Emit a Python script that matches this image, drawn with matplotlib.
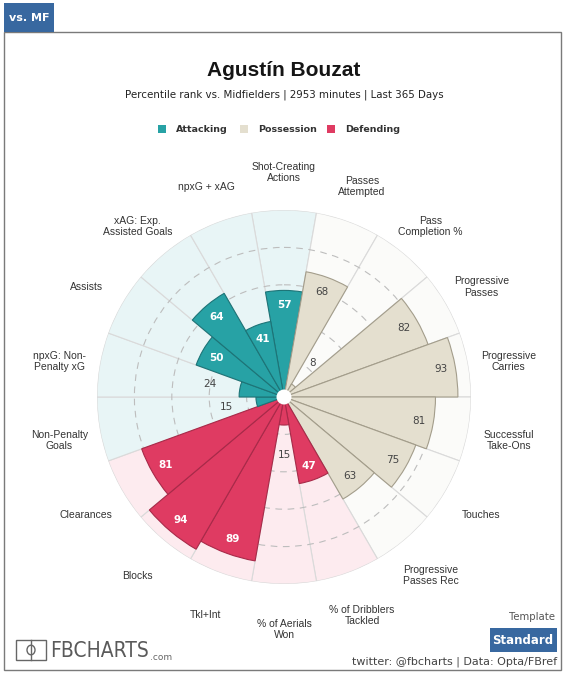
import numpy as np
import matplotlib
matplotlib.use("Agg")
import matplotlib.pyplot as plt
from matplotlib.patches import Rectangle, Circle

# data (clockwise from the top)
labels = ["Shot-Creating\nActions", "Passes\nAttempted", "Pass\nCompletion %",
          "Progressive\nPasses", "Progressive\nCarries", "Successful\nTake-Ons",
          "Touches", "Progressive\nPasses Rec", "% of Dribblers\nTackled",
          "% of Aerials\nWon", "Tkl+Int", "Blocks", "Clearances",
          "Non-Penalty\nGoals", "npxG: Non-\nPenalty xG", "Assists",
          "xAG: Exp.\nAssisted Goals", "npxG + xAG"]
values = [57, 68, 8, 82, 93, 81, 75, 63, 47, 15, 89, 94, 81, 15, 24, 50, 64, 41]
groups = ["att", "pos", "pos", "pos", "pos", "pos", "pos", "pos", "def",
          "def", "def", "def", "def", "att", "att", "att", "att", "att"]

bar_col = {"att": "#27a2a5", "pos": "#e4dfcf", "def": "#df3b62"}
edge_col = {"att": "#1d7477", "pos": "#a39d8b", "def": "#a82a49"}
bg_col = {"att": "#e8f5f6", "pos": "#fbfbf9", "def": "#fdebef"}
txt_col = {"att": "white", "pos": "#444444", "def": "white"}

W, H = 566, 676
fig = plt.figure(figsize=(W / 100, H / 100), dpi=100)


def fx(x):
    return x / W


def fy(y):
    return 1 - y / H


# frame and tab
fig.add_artist(Rectangle((fx(4), fy(670)), fx(557), (670 - 32) / H,
                         transform=fig.transFigure, fill=False, ec="#7a7a7a", lw=1))
fig.add_artist(Rectangle((fx(4), fy(32)), fx(50), 29 / H,
                         transform=fig.transFigure, fc="#3868a0", ec="none"))
fig.text(fx(29), fy(18), "vs. MF", color="white", fontsize=8, fontweight="bold",
         ha="center", va="center", family="DejaVu Sans")

# titles
fig.text(fx(284), fy(70), "Agustín Bouzat", fontsize=15, fontweight="bold",
         ha="center", va="center", family="Liberation Sans", color="#151515")
fig.text(fx(284), fy(95), "Percentile rank vs. Midfielders | 2953 minutes | Last 365 Days",
         fontsize=7.4, ha="center", va="center", family="DejaVu Sans", color="#222222")

# legend
leg = [("att", "Attacking", 158, 176), ("pos", "Possession", 240, 258),
       ("def", "Defending", 327, 345)]
for g, name, sx, tx in leg:
    fig.add_artist(Rectangle((fx(sx), fy(133)), fx(8), 8 / H,
                             transform=fig.transFigure, fc=bar_col[g], ec="none"))
    fig.text(fx(tx), fy(129), name, fontsize=6.8, fontweight="bold", ha="left",
             va="center", family="DejaVu Sans", color="#333333")

# polar chart
cx, cy, R = 284, 397, 187
ax = fig.add_axes([fx(cx - R), 1 - (cy + R) / H, 2 * R / W, 2 * R / H], projection="polar")
ax.set_theta_zero_location("N")
ax.set_theta_direction(-1)
ax.set_ylim(0, 100)
ax.set_facecolor("none")
ax.spines["polar"].set_visible(False)

n = len(values)
theta = np.arange(n) * 2 * np.pi / n
width = 2 * np.pi / n

ax.bar(theta, [100] * n, width=width, color=[bg_col[g] for g in groups],
       edgecolor="#dadada", lw=0.8, zorder=1)
ax.bar(theta, values, width=width, color=[bar_col[g] for g in groups],
       edgecolor=[edge_col[g] for g in groups], lw=0.8, zorder=2)

ax.set_xticks([])
ax.set_yticks([20, 40, 60, 80])
ax.set_yticklabels([])
ax.set_axisbelow("line")
ax.yaxis.grid(True, color="#bdbdbd", lw=0.8, ls=(0, (6, 5)))
ax.xaxis.grid(False)

ax.add_artist(Circle((0.5, 0.5), 7.5 / (2 * R), transform=ax.transAxes,
                     fc="white", ec="none", zorder=5))

for t, v, g in zip(theta, values, groups):
    if v >= 30:
        r = v - 8
        c = txt_col[g]
        fw = "bold" if g != "pos" else "normal"
    else:
        r = v + 16
        c = "#444444"
        fw = "normal"
    ax.text(t, r, str(v), ha="center", va="center", fontsize=7.5, color=c,
            fontweight=fw, family="DejaVu Sans", zorder=6)

for t, lab in zip(theta, labels):
    ax.annotate(lab, xy=(t, 122), xytext=(0, -4), textcoords="offset pixels",
                ha="center", va="center", fontsize=7.5, color="#333333",
                family="Liberation Sans", linespacing=1.15, annotation_clip=False)

# footer
fig.text(fx(555), fy(617), "Template", fontsize=7.3, ha="right", va="center",
         family="DejaVu Sans", color="#555555")
fig.add_artist(Rectangle((fx(490), fy(652)), fx(67), 24 / H,
                         transform=fig.transFigure, fc="#3868a0", ec="none"))
fig.text(fx(523), fy(640), "Standard", fontsize=8.5, fontweight="bold", ha="center",
         va="center", family="DejaVu Sans", color="white")
fig.text(fx(557), fy(662), "twitter: @fbcharts | Data: Opta/FBref", fontsize=8,
         ha="right", va="center", family="DejaVu Sans", color="#444444")

# logo
fig.add_artist(Rectangle((fx(16), fy(660)), fx(30), 20 / H, transform=fig.transFigure,
                         fill=False, ec="#666666", lw=1))
fig.add_artist(plt.Line2D([fx(31), fx(31)], [fy(660), fy(640)], transform=fig.transFigure,
                          color="#666666", lw=1))
fig.add_artist(Circle((fx(31), fy(650)), 4 / W, transform=fig.transFigure,
                      fill=False, ec="#666666", lw=1))
fig.text(fx(50), fy(651), "FBCHARTS", fontsize=15, ha="left", va="center",
         family="DejaVu Sans", fontstretch="condensed", color="#5a5a5a")
fig.text(fx(150), fy(658), ".com", fontsize=6.5, ha="left", va="center",
         family="DejaVu Sans", color="#666666")

fig.savefig("out.png", dpi=100)
